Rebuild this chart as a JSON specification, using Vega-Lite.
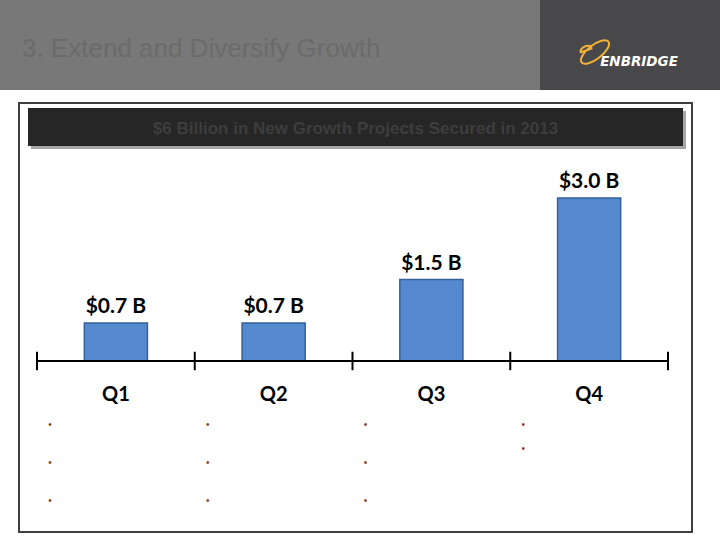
{
  "$schema": "https://vega.github.io/schema/vega-lite/v6.json",
  "padding": 0,
  "background": "white",
  "spacing": 12,
  "config": {"view": {"stroke": null}, "axis": {"disable": true}},
  "datasets": {
    "bars": [
      {"quarter": "Q1", "value": 0.7, "label": "$0.7 B"},
      {"quarter": "Q2", "value": 0.7, "label": "$0.7 B"},
      {"quarter": "Q3", "value": 1.5, "label": "$1.5 B"},
      {"quarter": "Q4", "value": 3.0, "label": "$3.0 B"}
    ],
    "bullets": [
      {"quarter": "Q1", "item": 1}, {"quarter": "Q1", "item": 2}, {"quarter": "Q1", "item": 3},
      {"quarter": "Q2", "item": 1}, {"quarter": "Q2", "item": 2}, {"quarter": "Q2", "item": 3},
      {"quarter": "Q3", "item": 1}, {"quarter": "Q3", "item": 2}, {"quarter": "Q3", "item": 3},
      {"quarter": "Q4", "item": 1}, {"quarter": "Q4", "item": 2}
    ]
  },
  "vconcat": [
    {
      "spacing": 0,
      "hconcat": [
        {
          "width": 540, "height": 90,
          "view": {"fill": "#787878", "stroke": null},
          "data": {"values": [{"heading": "3. Extend and Diversify Growth"}]},
          "mark": {"type": "text", "align": "left", "baseline": "alphabetic", "dx": -248, "dy": 12, "font": "Liberation Sans", "fontSize": 26, "color": "#6b6b6b"},
          "encoding": {"text": {"field": "heading"}}
        },
        {
          "width": 180, "height": 90,
          "view": {"fill": "#48474a", "stroke": null},
          "data": {"values": [{"brand": "ENBRIDGE"}]},
          "layer": [
            {
              "mark": {"type": "point", "shape": "M -4.84 1.747 A 1.7 0.7 -38 1 1 -2.16 -0.347 A 1.7 0.7 -38 1 1 -4.84 1.747 M -4.95 0.75 A 0.6 0.38 -30 1 1 -3.85 0.35 L -4.95 0.75", "size": 400, "filled": false, "color": "#f0b13a", "strokeWidth": 2, "opacity": 1},
              "encoding": {}
            },
            {
              "mark": {"type": "text", "align": "center", "baseline": "alphabetic", "dx": 9, "dy": 21, "font": "DejaVu Sans", "fontSize": 13.5, "fontWeight": "bold", "fontStyle": "italic", "color": "white"},
              "encoding": {"text": {"field": "brand"}}
            }
          ]
        }
      ]
    },
    {
      "spacing": 17,
      "hconcat": [
        {
          "width": 1, "height": 1,
          "data": {"values": []},
          "mark": "text",
          "encoding": {}
        },
        {
          "width": 673, "height": 429,
          "view": {"fill": "white", "stroke": "#3f3f3f", "strokeWidth": 2},
          "data": {"name": "bars"},
          "layer": [
            {
              "data": {"values": [{"title": "$6 Billion in New Growth Projects Secured in 2013"}]},
              "mark": {"type": "point", "shape": "M -16.225 -0.8 H 16.525 V 1.1 H -16.225 Z", "size": 1600, "filled": true, "color": "#a6a6a6", "strokeWidth": 0, "opacity": 1},
              "encoding": {
                "y": {"datum": 4.309, "type": "quantitative", "scale": {"domain": [-3.149, 4.751], "nice": false, "zero": false}, "axis": null}
              }
            },
            {
              "data": {"values": [{"title": "$6 Billion in New Growth Projects Secured in 2013"}]},
              "mark": {"type": "point", "shape": "M -16.375 -0.95 H 16.375 V 0.95 H -16.375 Z", "size": 1600, "filled": true, "color": "#262626", "strokeWidth": 0, "opacity": 1},
              "encoding": {
                "y": {"datum": 4.309, "type": "quantitative", "scale": {"domain": [-3.149, 4.751], "nice": false, "zero": false}, "axis": null}
              }
            },
            {
              "data": {"values": [{"title": "$6 Billion in New Growth Projects Secured in 2013"}]},
              "mark": {"type": "text", "align": "center", "baseline": "middle", "font": "Liberation Sans", "fontSize": 17, "fontWeight": "bold", "color": "#3d3d3d"},
              "encoding": {
                "y": {"datum": 4.273, "type": "quantitative", "scale": {"domain": [-3.149, 4.751], "nice": false, "zero": false}, "axis": null},
                "text": {"field": "title"}
              }
            },
            {
              "mark": {"type": "bar", "width": {"band": 0.4}, "color": "#5589cf", "stroke": "#35609a", "strokeWidth": 1.5},
              "encoding": {
                "x": {"field": "quarter", "type": "nominal", "scale": {"type": "band", "domain": ["Q1", "Q2", "Q3", "Q4"], "paddingInner": 0, "paddingOuter": 0.1331, "align": 0.4286}, "axis": null},
                "y": {"field": "value", "type": "quantitative", "scale": {"domain": [-3.149, 4.751], "nice": false, "zero": false}, "axis": null}
              }
            },
            {
              "mark": {"type": "text", "align": "center", "baseline": "alphabetic", "dy": -10, "font": "Lato", "fontSize": 21, "fontWeight": "bold", "color": "black"},
              "encoding": {
                "x": {"field": "quarter", "type": "nominal", "axis": null},
                "y": {"field": "value", "type": "quantitative", "scale": {"domain": [-3.149, 4.751], "nice": false, "zero": false}, "axis": null},
                "text": {"field": "label"}
              }
            },
            {
              "mark": {"type": "bar", "width": {"band": 1}, "color": "black"},
              "encoding": {
                "x": {"field": "quarter", "type": "nominal", "axis": null},
                "y": {"datum": 0.0184, "type": "quantitative", "scale": {"domain": [-3.149, 4.751], "nice": false, "zero": false}, "axis": null},
                "y2": {"datum": -0.0184}
              }
            },
            {
              "mark": {"type": "rule", "color": "black", "strokeWidth": 2},
              "encoding": {
                "x": {"field": "quarter", "type": "nominal", "bandPosition": 0, "axis": null},
                "y": {"datum": 0.17, "type": "quantitative", "scale": {"domain": [-3.149, 4.751], "nice": false, "zero": false}, "axis": null},
                "y2": {"datum": -0.17}
              }
            },
            {
              "transform": [{"filter": "datum.quarter == 'Q4'"}],
              "mark": {"type": "rule", "color": "black", "strokeWidth": 2},
              "encoding": {
                "x": {"field": "quarter", "type": "nominal", "bandPosition": 1, "axis": null},
                "y": {"datum": 0.17, "type": "quantitative", "scale": {"domain": [-3.149, 4.751], "nice": false, "zero": false}, "axis": null},
                "y2": {"datum": -0.17}
              }
            },
            {
              "mark": {"type": "text", "align": "center", "baseline": "alphabetic", "font": "Lato", "fontSize": 20, "fontWeight": "bold", "color": "black"},
              "encoding": {
                "x": {"field": "quarter", "type": "nominal", "axis": null},
                "y": {"datum": -0.737, "type": "quantitative", "scale": {"domain": [-3.149, 4.751], "nice": false, "zero": false}, "axis": null},
                "text": {"field": "quarter"}
              }
            },
            {
              "data": {"name": "bullets"},
              "transform": [{"filter": "datum.item == 1"}],
              "mark": {"type": "text", "text": "•", "align": "center", "baseline": "middle", "dx": 13, "fontSize": 10, "color": "#8b3a2b"},
              "encoding": {
                "x": {"field": "quarter", "type": "nominal", "bandPosition": 0, "axis": null},
                "y": {"datum": -1.18, "type": "quantitative", "scale": {"domain": [-3.149, 4.751], "nice": false, "zero": false}, "axis": null}
              }
            },
            {
              "data": {"name": "bullets"},
              "transform": [{"filter": "datum.item == 2 && datum.quarter != 'Q4'"}],
              "mark": {"type": "text", "text": "•", "align": "center", "baseline": "middle", "dx": 13, "fontSize": 10, "color": "#8b3a2b"},
              "encoding": {
                "x": {"field": "quarter", "type": "nominal", "bandPosition": 0, "axis": null},
                "y": {"datum": -1.88, "type": "quantitative", "scale": {"domain": [-3.149, 4.751], "nice": false, "zero": false}, "axis": null}
              }
            },
            {
              "data": {"name": "bullets"},
              "transform": [{"filter": "datum.item == 2 && datum.quarter == 'Q4'"}],
              "mark": {"type": "text", "text": "•", "align": "center", "baseline": "middle", "dx": 13, "fontSize": 10, "color": "#8b3a2b"},
              "encoding": {
                "x": {"field": "quarter", "type": "nominal", "bandPosition": 0, "axis": null},
                "y": {"datum": -1.62, "type": "quantitative", "scale": {"domain": [-3.149, 4.751], "nice": false, "zero": false}, "axis": null}
              }
            },
            {
              "data": {"name": "bullets"},
              "transform": [{"filter": "datum.item == 3"}],
              "mark": {"type": "text", "text": "•", "align": "center", "baseline": "middle", "dx": 13, "fontSize": 10, "color": "#8b3a2b"},
              "encoding": {
                "x": {"field": "quarter", "type": "nominal", "bandPosition": 0, "axis": null},
                "y": {"datum": -2.58, "type": "quantitative", "scale": {"domain": [-3.149, 4.751], "nice": false, "zero": false}, "axis": null}
              }
            }
          ]
        }
      ]
    }
  ]
}
